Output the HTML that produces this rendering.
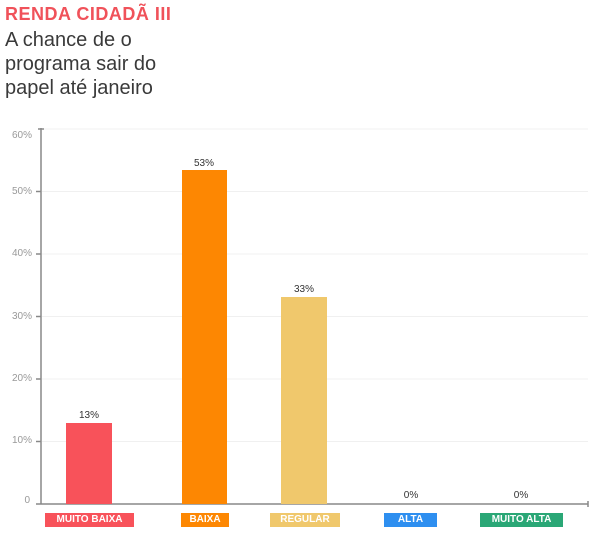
<!DOCTYPE html><html><head><style>
body{margin:0;width:602px;height:537px;background:#fff;font-family:"Liberation Sans",sans-serif;position:relative;overflow:hidden}
.a{position:absolute}
.t{left:5px;top:4px;font-weight:bold;font-size:18px;letter-spacing:0.5px;color:#f0525a}
.s{left:5px;top:28px;font-size:20px;line-height:24px;color:#3a3a3a}
.lb{position:absolute;top:513px;height:14px;line-height:14px;font-size:10px;font-weight:bold;color:#fff;text-align:center}
</style></head><body>
<div class="a t">RENDA CIDADÃ III</div>
<div class="a s">A chance de o<br>programa sair do<br>papel até janeiro</div>
<svg class="a" style="left:0;top:0" width="602" height="537">
<g stroke="#f0f0f0" stroke-width="1">
<line x1="42" x2="588" y1="129" y2="129"/><line x1="42" x2="588" y1="191.5" y2="191.5"/><line x1="42" x2="588" y1="254" y2="254"/><line x1="42" x2="588" y1="316.5" y2="316.5"/><line x1="42" x2="588" y1="379" y2="379"/><line x1="42" x2="588" y1="441.5" y2="441.5"/></g>
<g stroke="#888" stroke-width="1.5">
<line x1="41" x2="41" y1="128" y2="504"/><line x1="38" x2="44" y1="129" y2="129"/>
<line x1="36" x2="588" y1="504" y2="504"/><line x1="588" x2="588" y1="501" y2="507"/>
<line x1="36" x2="41" y1="191.5" y2="191.5"/><line x1="36" x2="41" y1="254" y2="254"/><line x1="36" x2="41" y1="316.5" y2="316.5"/><line x1="36" x2="41" y1="379" y2="379"/><line x1="36" x2="41" y1="441.5" y2="441.5"/></g>
<g font-size="10" fill="#999" text-anchor="end" font-family="Liberation Sans">
<text x="32" y="138">60%</text><text x="32" y="194">50%</text><text x="32" y="256">40%</text><text x="32" y="319">30%</text><text x="32" y="381">20%</text><text x="32" y="443">10%</text><text x="30" y="503">0</text></g>
<rect x="66" y="423" width="46" height="81" fill="#f8525a"/>
<rect x="182" y="170" width="45" height="334" fill="#fd8702"/>
<rect x="281" y="297" width="46" height="207" fill="#f0c86c"/>
<g font-size="10" fill="#333" text-anchor="middle" font-family="Liberation Sans">
<text x="89" y="418">13%</text><text x="204" y="166">53%</text><text x="304" y="292">33%</text><text x="411" y="498">0%</text><text x="521" y="498">0%</text></g>
</svg>
<div class="lb" style="left:45px;width:89px;background:#f8525a">MUITO BAIXA</div>
<div class="lb" style="left:181px;width:48px;background:#fd8702">BAIXA</div>
<div class="lb" style="left:270px;width:70px;background:#f0c86c">REGULAR</div>
<div class="lb" style="left:384px;width:53px;background:#2e8ff0">ALTA</div>
<div class="lb" style="left:480px;width:83px;background:#2aa776">MUITO ALTA</div>
</body></html>
